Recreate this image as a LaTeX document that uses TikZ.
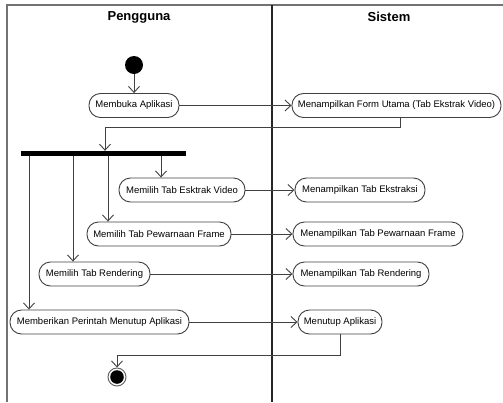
\documentclass[tikz,border=0pt]{standalone}
\usepackage{fontspec}
\setmainfont{Liberation Sans}
\usetikzlibrary{arrows.meta}
\tikzset{
  act/.style={draw=black!75, line width=0.9pt, rounded corners=11.5pt,
    minimum height=24pt, inner xsep=0pt, inner ysep=0pt,
    font=\fontsize{9.5}{10}\selectfont},
  flow/.style={draw=black!75, line width=0.9pt,
    -{Straight Barb[length=6pt,width=11pt,line width=0.9pt]}},
  link/.style={draw=black!75, line width=0.9pt},
  lane/.style={draw=black!55, line width=1.1pt},
  divider/.style={draw=black!85, line width=1.1pt},
  head/.style={font=\fontsize{13}{15}\selectfont\bfseries},
}
\begin{document}
\begin{tikzpicture}[x=1pt,y=-1pt]
  \useasboundingbox (0,0) rectangle (503,402);

  % swimlanes
  \draw[lane] (7,402) -- (7,5) -- (503,5);
  \draw[divider] (272,5) -- (272,402);
  \node[head] (lanea) at (139,17) {Pengguna};
  \node[head] (laneb) at (389,17) {Sistem};

  % initial node and fork bar
  \node[circle, fill=black, minimum size=18pt, inner sep=0pt] (start) at (134,65) {};
  \node[fill=black, minimum width=165pt, minimum height=5pt, inner sep=0pt] (bar) at (103.5,153.5) {};

  % activities of the user
  \node[act, minimum width=90pt]  (buka)    at (134,105.5) {Membuka Aplikasi};
  \node[act, minimum width=126pt] (ekstrak) at (182,190)   {Memilih Tab Esktrak Video};
  \node[act, minimum width=144pt] (warna)   at (159,234)   {Memilih Tab Pewarnaan Frame};
  \node[act, minimum width=111pt] (render)  at (94.5,274)  {Memilih Tab Rendering};
  \node[act, minimum width=179pt] (tutup)   at (99.5,322)  {Memberikan Perintah Menutup Aplikasi};

  % activities of the system
  \node[act, minimum width=209pt] (form)     at (396.5,105.5) {Menampilkan Form Utama (Tab Ekstrak Video)};
  \node[act, minimum width=130pt] (sEkstrak) at (360,190)     {Menampilkan Tab Ekstraksi};
  \node[act, minimum width=170pt] (sWarna)   at (378,234)     {Menampilkan Tab Pewarnaan Frame};
  \node[act, minimum width=136pt] (sRender)  at (361,274)     {Menampilkan Tab Rendering};
  \node[act, minimum width=84pt]  (sTutup)   at (340,322)     {Menutup Aplikasi};

  % final node
  \node[circle, draw=black!60, line width=1pt, minimum size=18pt, inner sep=0pt] (stop) at (117,377) {};
  \fill[black] (stop.center) circle (6.8pt);

  % bend points and fork outlets
  \coordinate (formTurn) at (400,127);
  \coordinate (barIn) at (105,127);
  \coordinate (endTurn) at (340,355);
  \coordinate (endIn) at (117,355);
  \coordinate (outA) at (161,156);
  \coordinate (outB) at (108,156);
  \coordinate (outC) at (73,156);
  \coordinate (outD) at (29,156);

  % flows
  \draw[flow] (start) -- (buka);
  \draw[flow] (buka) -- (form);
  \draw[link] (form.south -| formTurn) -- (formTurn) -- (barIn);
  \draw[flow] (barIn) -- (barIn |- bar.north);

  \draw[flow] (outA) -- (outA |- ekstrak.north);
  \draw[flow] (outB) -- (outB |- warna.north);
  \draw[flow] (outC) -- (outC |- render.north);
  \draw[flow] (outD) -- (outD |- tutup.north);

  \draw[flow] (ekstrak) -- (sEkstrak);
  \draw[flow] (warna) -- (sWarna);
  \draw[flow] (render) -- (sRender);
  \draw[flow] (tutup) -- (sTutup);

  \draw[link] (sTutup.south) -- (endTurn) -- (endIn);
  \draw[flow] (endIn) -- (stop.north);
\end{tikzpicture}
\end{document}
